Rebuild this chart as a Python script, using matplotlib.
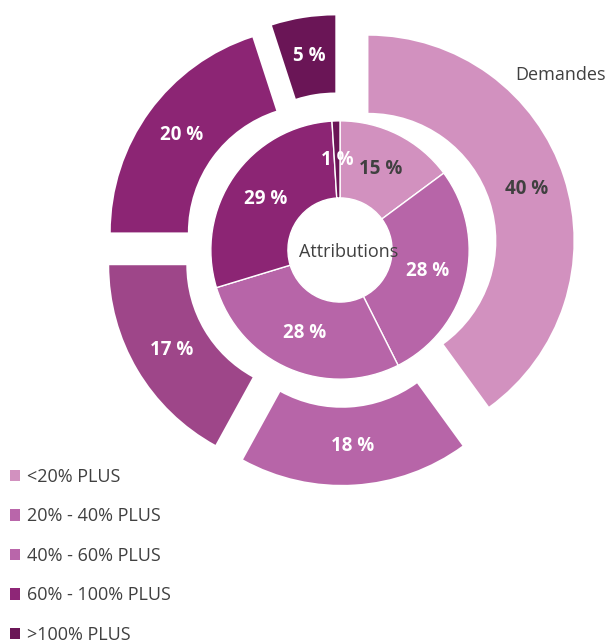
import matplotlib.pyplot as plt
from matplotlib.patches import Patch
import numpy as np

categories = ["<20% PLUS", "20% - 40% PLUS", "40% - 60% PLUS", "60% - 100% PLUS", ">100% PLUS"]
demandes = [40, 18, 17, 20, 5]
attributions = [15, 28, 28, 29, 1]

legend_colors = ["#d291bf", "#b966aa", "#b966aa", "#8e2677", "#6b1657"]
outer_colors = ["#d291bf", "#b765a8", "#9e4689", "#8c2574", "#6a1556"]
inner_colors = ["#d291bf", "#b765a8", "#b765a8", "#8c2574", "#6a1556"]
dark_label = [True, False, False, False, False]

plt.rcParams["font.family"] = ["Open Sans", "DejaVu Sans"]
TXT = "#404040"

W, H = 607, 643
cx, cy, R = 340, 250, 205  # pie centre and outer radius in pixels

fig = plt.figure(figsize=(W / 100, H / 100), dpi=100)
ax = fig.add_axes([0, 0, 1, 1])


def put_labels(wedges, values, dist):
    for w, v, dark in zip(wedges, values, dark_label):
        mid = np.deg2rad((w.theta1 + w.theta2) / 2)
        x = w.center[0] + dist * np.cos(mid)
        y = w.center[1] + dist * np.sin(mid)
        ax.text(x, y, f"{v} %", ha="center", va="center", fontsize=13.5,
                fontweight="bold", color=TXT if dark else "white")


# outer ring: demandes, every piece pulled out
outer, _ = ax.pie(demandes, radius=1.0, colors=outer_colors, startangle=90,
                  counterclock=False, explode=[0.146] * 5,
                  wedgeprops=dict(width=0.376, linewidth=0))
put_labels(outer, demandes, 0.81)

# inner ring: attributions
inner, _ = ax.pie(attributions, radius=0.63, colors=inner_colors, startangle=90,
                  counterclock=False,
                  wedgeprops=dict(width=0.376, edgecolor="white", linewidth=1))
put_labels(inner, attributions, 0.44)

# pie() resets the limits, so set them afterwards
ax.set_xlim(-cx / R, (W - cx) / R)
ax.set_ylim(-(H - cy) / R, cy / R)
ax.axis("off")

ax.text(0.04, -0.01, "Attributions", ha="center", va="center", fontsize=13, color=TXT)
ax.text((515 - cx) / R, (cy - 75) / R, "Demandes", ha="left", va="center",
        fontsize=13, color=TXT)

handles = [Patch(facecolor=c, edgecolor="none") for c in legend_colors]
fig.legend(handles, categories, loc="upper left", bbox_to_anchor=(0.007, 0.281),
           frameon=False, fontsize=13, labelcolor=TXT, handlelength=0.6,
           handleheight=0.6, handletextpad=0.35, labelspacing=1.19,
           borderaxespad=0.0, borderpad=0.3)

fig.savefig("out.png", dpi=100)
